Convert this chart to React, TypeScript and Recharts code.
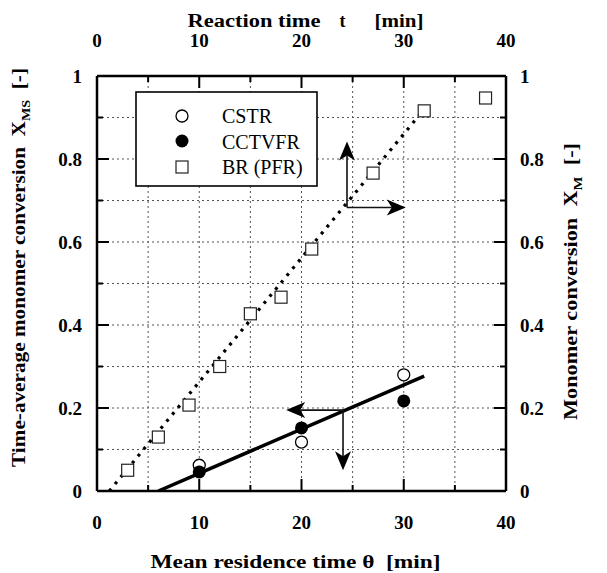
import React from 'react';
import {
  ComposedChart,
  XAxis,
  YAxis,
  CartesianGrid,
  Scatter,
  Line,
  ReferenceLine,
  Legend,
  Label,
} from 'recharts';

// ---------- data ----------
const xTicks = [0, 5, 10, 15, 20, 25, 30, 35, 40];
const yTicks = [0, 0.1, 0.2, 0.3, 0.4, 0.5, 0.6, 0.7, 0.8, 0.9, 1];

const cstrTheta = [10, 20, 30];
const cstrX = [0.062, 0.118, 0.28];

const cctvfrTheta = [10, 20, 30];
const cctvfrX = [0.046, 0.152, 0.217];

const brTime = [3, 6, 9, 12, 15, 18, 21, 27, 32, 38];
const brX = [0.05, 0.13, 0.207, 0.3, 0.427, 0.467, 0.583, 0.766, 0.916, 0.947];

const cstrFitTheta = [6, 32];
const cstrFitX = [0, 0.277];

const brFitTime = [1.2, 32];
const brFitX = [0, 0.92];

// arrows: [origin, end]
const arrowUp = [{ x: 24.45, y: 0.683 }, { x: 24.45, y: 0.842 }];
const arrowRight = [{ x: 24.45, y: 0.683 }, { x: 30.2, y: 0.683 }];
const arrowLeft = [{ x: 24.06, y: 0.195 }, { x: 18.5, y: 0.195 }];
const arrowDown = [{ x: 24.06, y: 0.195 }, { x: 24.06, y: 0.05 }];

const legendNames = ['CSTR', 'CCTVFR', 'BR (PFR)'];

const zip = (xs: number[], ys: number[]) => xs.map((x, i) => ({ x, y: ys[i] }));
const cstrData = zip(cstrTheta, cstrX);
const cctvfrData = zip(cctvfrTheta, cctvfrX);
const brData = zip(brTime, brX);
const cstrFit = zip(cstrFitTheta, cstrFitX);
const brFit = zip(brFitTime, brFitX);

const FONT = "'Liberation Serif', 'Times New Roman', serif";

// ---------- ticks ----------
const fmtY = (v: number) => (v === 0 ? '0' : v === 1 ? '1' : v.toFixed(1));

function makeTick(orient: 'top' | 'bottom' | 'left' | 'right') {
  return (props: any) => {
    const { x, y, payload } = props;
    const v = payload.value as number;
    const isX = orient === 'top' || orient === 'bottom';
    const major = isX ? Math.round(v) % 10 === 0 : Math.round(v * 10) % 2 === 0;
    const len = major ? 12 : 6;
    const common = { fontFamily: FONT, fontWeight: 700, fontSize: 19, fill: '#000' };
    let line: any = null;
    let text: any = null;
    if (orient === 'bottom') {
      line = <line x1={x} x2={x} y1={y} y2={y - len} stroke="#000" strokeWidth={2} />;
      if (major) text = <text x={x} y={y + 38} textAnchor="middle" {...common}>{String(v)}</text>;
    } else if (orient === 'top') {
      line = <line x1={x} x2={x} y1={y} y2={y + len} stroke="#000" strokeWidth={2} />;
      if (major) text = <text x={x} y={y - 29} textAnchor="middle" {...common}>{String(v)}</text>;
    } else if (orient === 'left') {
      line = <line x1={x} x2={x + len} y1={y} y2={y} stroke="#000" strokeWidth={2} />;
      if (major) text = <text x={x - 15} y={y} dy="0.35em" textAnchor="end" {...common}>{fmtY(v)}</text>;
    } else {
      line = <line x1={x} x2={x - len} y1={y} y2={y} stroke="#000" strokeWidth={2} />;
      if (major) text = <text x={x + 14} y={y} dy="0.35em" textAnchor="start" {...common}>{fmtY(v)}</text>;
    }
    return (
      <g>
        {line}
        {text}
      </g>
    );
  };
}

// ---------- markers ----------
const OpenCircle = (p: any) => (
  <circle cx={p.cx} cy={p.cy} r={6} fill="#fff" stroke="#000" strokeWidth={1.3} />
);
const FilledCircle = (p: any) => <circle cx={p.cx} cy={p.cy} r={6.5} fill="#000" />;
const OpenSquare = (p: any) => (
  <rect x={p.cx - 6} y={p.cy - 6} width={12} height={12} fill="#fff" stroke="#222" strokeWidth={1.2} />
);

// ---------- arrows ----------
const ArrowShape = (p: any) => {
  const { x1, y1, x2, y2 } = p;
  const dx = x2 - x1;
  const dy = y2 - y1;
  const L = Math.hypot(dx, dy) || 1;
  const ux = dx / L;
  const uy = dy / L;
  const px = -uy;
  const py = ux;
  const hl = 19;
  const hw = 8;
  const notch = 5;
  const bx = x2 - ux * hl;
  const by = y2 - uy * hl;
  const nx = x2 - ux * (hl - notch);
  const ny = y2 - uy * (hl - notch);
  const pts = `${x2},${y2} ${bx + px * hw},${by + py * hw} ${nx},${ny} ${bx - px * hw},${by - py * hw}`;
  return (
    <g>
      <line x1={x1} y1={y1} x2={nx} y2={ny} stroke="#111" strokeWidth={1.6} />
      <polygon points={pts} fill="#000" />
    </g>
  );
};

// ---------- legend ----------
const LegendBox = () => (
  <svg width={184} height={97} style={{ display: 'block' }}>
    <rect x={1} y={1} width={181} height={94} fill="#fff" stroke="#000" strokeWidth={1.6} />
    <circle cx={47} cy={25} r={6} fill="#fff" stroke="#000" strokeWidth={1.3} />
    <circle cx={47} cy={50} r={6.5} fill="#000" />
    <rect x={41} y={70} width={12} height={12} fill="#fff" stroke="#222" strokeWidth={1.2} />
    {legendNames.map((n, i) => (
      <text key={n} x={87} y={25 + i * 25.5} dy="0.35em" fontFamily={FONT} fontSize={20} fill="#000">
        {n}
      </text>
    ))}
  </svg>
);

const titleStyle = { fontFamily: FONT, fontWeight: 700, fontSize: 18, fill: '#000' } as const;

export default function App() {
  return (
    <div style={{ position: 'absolute', left: 0, top: 0 }}>
      <ComposedChart width={607} height={573} margin={{ top: 0, right: 0, bottom: 0, left: 0 }}>
        <CartesianGrid
          xAxisId="bottom"
          yAxisId="left"
          stroke="#555"
          strokeWidth={1}
          strokeDasharray="2 3"
        />
        <XAxis
          xAxisId="bottom"
          orientation="bottom"
          type="number"
          dataKey="x"
          domain={[0, 40]}
          ticks={xTicks}
          interval={0}
          height={82}
          tickSize={0}
          tickMargin={0}
          tickLine={false}
          axisLine={{ stroke: '#000', strokeWidth: 2.5 }}
          tick={makeTick('bottom')}
          allowDataOverflow
        >
          <Label
            content={(p: any) => {
              const vb = p.viewBox;
              return (
                <text
                  x={vb.x + vb.width / 2 - 6}
                  y={vb.y + 77}
                  textAnchor="middle"
                  textLength={290}
                  lengthAdjust="spacingAndGlyphs"
                  style={{ whiteSpace: 'pre' }}
                  {...titleStyle}
                >
                  {'Mean residence time \u03b8  [min]'}
                </text>
              );
            }}
          />
        </XAxis>
        <XAxis
          xAxisId="top"
          orientation="top"
          type="number"
          dataKey="x"
          domain={[0, 40]}
          ticks={xTicks}
          interval={0}
          height={76}
          tickSize={0}
          tickMargin={0}
          tickLine={false}
          axisLine={{ stroke: '#000', strokeWidth: 2.5 }}
          tick={makeTick('top')}
          allowDataOverflow
        >
          <Label
            content={(p: any) => {
              const vb = p.viewBox;
              const cx = vb.x + vb.width / 2;
              return (
                <g>
                  <text x={cx - 114} y={27} textLength={133} lengthAdjust="spacingAndGlyphs" {...titleStyle}>
                    Reaction time
                  </text>
                  <text x={cx + 38} y={27} {...titleStyle}>
                    t
                  </text>
                  <text x={cx + 73} y={27} textLength={49} lengthAdjust="spacingAndGlyphs" {...titleStyle}>
                    [min]
                  </text>
                </g>
              );
            }}
          />
        </XAxis>
        <YAxis
          yAxisId="left"
          orientation="left"
          type="number"
          dataKey="y"
          domain={[0, 1]}
          ticks={yTicks}
          interval={0}
          width={97}
          tickSize={0}
          tickMargin={0}
          tickLine={false}
          axisLine={{ stroke: '#000', strokeWidth: 2.5 }}
          tick={makeTick('left')}
          allowDataOverflow
        >
          <Label
            content={(p: any) => {
              const vb = p.viewBox;
              const cy = vb.y + vb.height / 2 - 16;
              const bx = 25;
              return (
                <text
                  x={bx}
                  y={cy}
                  transform={`rotate(-90 ${bx} ${cy})`}
                  textAnchor="middle"
                  textLength={399}
                  lengthAdjust="spacingAndGlyphs"
                  style={{ whiteSpace: 'pre' }}
                  {...titleStyle}
                >
                  {'Time-average monomer conversion  X'}
                  <tspan fontSize={12} dy={5}>MS</tspan>
                  <tspan dy={-5}>{'  [-]'}</tspan>
                </text>
              );
            }}
          />
        </YAxis>
        <YAxis
          yAxisId="right"
          orientation="right"
          type="number"
          dataKey="y"
          domain={[0, 1]}
          ticks={yTicks}
          interval={0}
          width={101}
          tickSize={0}
          tickMargin={0}
          tickLine={false}
          axisLine={{ stroke: '#000', strokeWidth: 2.5 }}
          tick={makeTick('right')}
          allowDataOverflow
        >
          <Label
            content={(p: any) => {
              const vb = p.viewBox;
              const cy = vb.y + vb.height / 2 - 2;
              const bx = 577;
              return (
                <text
                  x={bx}
                  y={cy}
                  transform={`rotate(-90 ${bx} ${cy})`}
                  textAnchor="middle"
                  textLength={277}
                  lengthAdjust="spacingAndGlyphs"
                  style={{ whiteSpace: 'pre' }}
                  {...titleStyle}
                >
                  {'Monomer conversion  X'}
                  <tspan fontSize={12} dy={5}>M</tspan>
                  <tspan dy={-5}>{'  [-]'}</tspan>
                </text>
              );
            }}
          />
        </YAxis>

        <Line
          xAxisId="bottom"
          yAxisId="left"
          data={brFit}
          dataKey="y"
          stroke="#000"
          strokeWidth={3.2}
          strokeDasharray="3 6"
          dot={false}
          activeDot={false}
          isAnimationActive={false}
          legendType="none"
        />
        <Line
          xAxisId="bottom"
          yAxisId="left"
          data={cstrFit}
          dataKey="y"
          stroke="#000"
          strokeWidth={3.5}
          dot={false}
          activeDot={false}
          isAnimationActive={false}
          legendType="none"
        />

        <ReferenceLine xAxisId="bottom" yAxisId="left" segment={arrowUp} shape={ArrowShape} ifOverflow="visible" />
        <ReferenceLine xAxisId="bottom" yAxisId="left" segment={arrowRight} shape={ArrowShape} ifOverflow="visible" />
        <ReferenceLine xAxisId="bottom" yAxisId="left" segment={arrowLeft} shape={ArrowShape} ifOverflow="visible" />
        <ReferenceLine xAxisId="bottom" yAxisId="left" segment={arrowDown} shape={ArrowShape} ifOverflow="visible" />

        <Scatter
          xAxisId="bottom"
          yAxisId="left"
          name="CSTR"
          data={cstrData}
          dataKey="y"
          shape={OpenCircle}
          isAnimationActive={false}
        />
        <Scatter
          xAxisId="bottom"
          yAxisId="left"
          name="CCTVFR"
          data={cctvfrData}
          dataKey="y"
          shape={FilledCircle}
          isAnimationActive={false}
        />
        <Scatter
          xAxisId="bottom"
          yAxisId="left"
          name="BR (PFR)"
          data={brData}
          dataKey="y"
          shape={OpenSquare}
          isAnimationActive={false}
        />

        <Legend
          layout="horizontal"
          verticalAlign="middle"
          align="center"
          content={() => <LegendBox />}
          wrapperStyle={{ left: 135, top: 91, width: 184, height: 97 }}
        />
      </ComposedChart>
    </div>
  );
}
